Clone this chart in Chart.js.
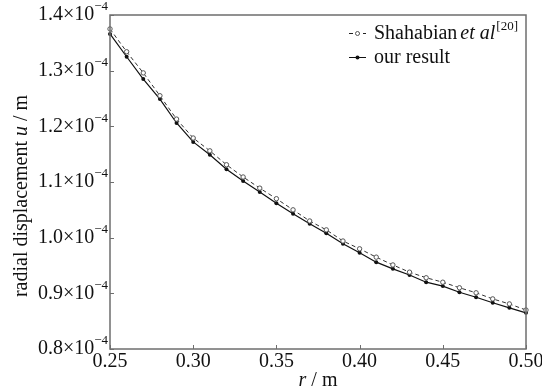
<!DOCTYPE html>
<html>
<head>
<meta charset="utf-8">
<script src="https://cdn.jsdelivr.net/npm/chart.js@4"></script>
<style>
  body { margin: 0; background: #fff; }
  #wrap { width: 542px; height: 389px; }
</style>
</head>
<body>
<div id="wrap"><canvas id="displacement"></canvas></div>
<script>
// values in units of 10^-4 m
const radius = [0.25, 0.26, 0.27, 0.28, 0.29, 0.30, 0.31, 0.32, 0.33, 0.34, 0.35, 0.36, 0.37,
                0.38, 0.39, 0.40, 0.41, 0.42, 0.43, 0.44, 0.45, 0.46, 0.47, 0.48, 0.49, 0.50];
const shahabian = [1.375, 1.334, 1.296, 1.255, 1.213, 1.179, 1.156, 1.131, 1.109, 1.089, 1.070, 1.050, 1.030,
                   1.014, 0.994, 0.980, 0.965, 0.951, 0.938, 0.928, 0.920, 0.910, 0.901, 0.890, 0.881, 0.870];
const ourResult = [1.366, 1.325, 1.285, 1.249, 1.206, 1.172, 1.149, 1.123, 1.102, 1.082, 1.062, 1.043, 1.025,
                   1.008, 0.989, 0.973, 0.956, 0.944, 0.933, 0.920, 0.913, 0.902, 0.893, 0.883, 0.874, 0.865];
const yTicks = [0.8, 0.9, 1.0, 1.1, 1.2, 1.3, 1.4];
const xTicks = [0.25, 0.30, 0.35, 0.40, 0.45, 0.50];

const SERIF = '"Liberation Serif", "Times New Roman", serif';

// draws frame, inward ticks, labels with superscripts, titles and legend
const decorations = {
  id: 'decorations',
  afterDraw(chart) {
    const { ctx, chartArea: a, scales: { x, y } } = chart;
    ctx.save();

    // frame
    ctx.strokeStyle = '#6e6e6e';
    ctx.lineWidth = 1.5;
    ctx.strokeRect(a.left, a.top, a.right - a.left, a.bottom - a.top);

    // inward tick marks
    ctx.lineWidth = 1;
    ctx.beginPath();
    yTicks.forEach(v => {
      const py = Math.round(y.getPixelForValue(v)) + 0.5;
      ctx.moveTo(a.left, py); ctx.lineTo(a.left + 4, py);
    });
    xTicks.forEach(v => {
      const px = Math.round(x.getPixelForValue(v)) + 0.5;
      ctx.moveTo(px, a.bottom); ctx.lineTo(px, a.bottom - 4);
    });
    ctx.stroke();

    ctx.fillStyle = '#111';
    ctx.textBaseline = 'middle';

    // y tick labels: 1.4×10^-4
    yTicks.forEach(v => {
      const py = y.getPixelForValue(v);
      ctx.font = '13px ' + SERIF;
      const sup = '\u22124';
      const supW = ctx.measureText(sup).width;
      const right = a.left - 2;
      ctx.textAlign = 'left';
      ctx.fillText(sup, right - supW, py - 8);
      ctx.font = '20px ' + SERIF;
      ctx.textAlign = 'right';
      ctx.fillText(v.toFixed(1) + '\u00d710', right - supW, py);
    });

    // x tick labels
    ctx.font = '20px ' + SERIF;
    ctx.textAlign = 'center';
    xTicks.forEach(v => {
      ctx.fillText(v.toFixed(2), x.getPixelForValue(v), a.bottom + 13);
    });

    // x title: r / m
    const drawParts = (parts, cx, cy) => {
      let total = 0;
      parts.forEach(p => { ctx.font = p.font; p.w = ctx.measureText(p.text).width; total += p.w; });
      let px = cx - total / 2;
      ctx.textAlign = 'left';
      parts.forEach(p => { ctx.font = p.font; ctx.fillText(p.text, px, cy); px += p.w; });
    };
    drawParts([
      { text: 'r', font: 'italic 20px ' + SERIF },
      { text: ' / m', font: '20px ' + SERIF }
    ], (a.left + a.right) / 2, 381);

    // y title
    ctx.save();
    ctx.translate(22, (a.top + a.bottom) / 2 + 14);
    ctx.rotate(-Math.PI / 2);
    drawParts([
      { text: 'radial displacement ', font: '20px ' + SERIF },
      { text: 'u', font: 'italic 20px ' + SERIF },
      { text: ' / m', font: '20px ' + SERIF }
    ], 0, 0);
    ctx.restore();

    // legend
    ctx.strokeStyle = '#222';
    ctx.lineWidth = 1;
    ctx.setLineDash([4, 3]);
    ctx.beginPath(); ctx.moveTo(349, 33.5); ctx.lineTo(366, 33.5); ctx.stroke();
    ctx.setLineDash([]);
    ctx.beginPath(); ctx.arc(357.5, 33.5, 2, 0, Math.PI * 2);
    ctx.fillStyle = '#fff'; ctx.fill(); ctx.strokeStyle = '#555'; ctx.stroke();
    ctx.strokeStyle = '#111';
    ctx.beginPath(); ctx.moveTo(349, 57.5); ctx.lineTo(366, 57.5); ctx.stroke();
    ctx.beginPath(); ctx.arc(357.5, 57.5, 2, 0, Math.PI * 2);
    ctx.fillStyle = '#111'; ctx.fill();

    ctx.fillStyle = '#111';
    ctx.textAlign = 'left';
    let lx = 374;
    ctx.font = '20px ' + SERIF;
    ctx.fillText('Shahabian', lx, 34);
    lx += ctx.measureText('Shahabian').width + 3;
    ctx.font = 'italic 20px ' + SERIF;
    ctx.fillText('et al', lx, 34);
    lx += ctx.measureText('et al').width + 1;
    ctx.font = '13px ' + SERIF;
    ctx.fillText('[20]', lx, 27);
    ctx.font = '20px ' + SERIF;
    ctx.fillText('our result', 374, 58);

    ctx.restore();
  }
};

function displacementChart() {
  const ctx = document.getElementById('displacement').getContext('2d');
  const chart = new Chart(ctx, {
    type: 'line',
    data: {
      datasets: [
        {
          label: 'Shahabian et al [20]',
          data: radius.map((r, i) => ({ x: r, y: shahabian[i] })),
          borderColor: '#333',
          borderWidth: 1,
          borderDash: [4, 3],
          pointRadius: 2.2,
          pointBackgroundColor: '#fff',
          pointBorderColor: '#555',
          pointBorderWidth: 1,
          tension: 0,
          clip: false
        },
        {
          label: 'our result',
          data: radius.map((r, i) => ({ x: r, y: ourResult[i] })),
          borderColor: '#111',
          borderWidth: 1.2,
          pointRadius: 2,
          pointBackgroundColor: '#111',
          pointBorderColor: '#111',
          pointBorderWidth: 0,
          tension: 0,
          clip: false
        }
      ]
    },
    options: {
      responsive: true,
      maintainAspectRatio: false,
      animation: false,
      layout: { padding: { top: 15, right: 16, left: 0, bottom: 0 } },
      plugins: { legend: { display: false }, tooltip: { enabled: false } },
      scales: {
        x: {
          type: 'linear',
          min: 0.25,
          max: 0.50,
          grid: { display: false },
          border: { display: false },
          ticks: { display: false },
          afterFit: s => { s.height = 40; }
        },
        y: {
          min: 0.8,
          max: 1.4,
          grid: { display: false },
          border: { display: false },
          ticks: { display: false },
          afterFit: s => { s.width = 110; }
        }
      }
    },
    plugins: [decorations]
  });
}
displacementChart();
</script>
</body>
</html>
